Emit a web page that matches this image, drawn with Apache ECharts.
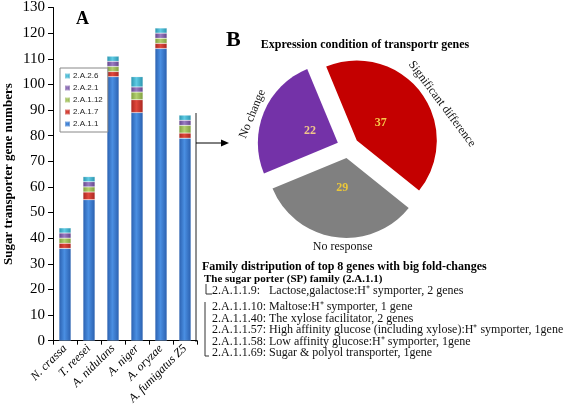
<!DOCTYPE html>
<html><head><meta charset="utf-8">
<script src="https://cdn.jsdelivr.net/npm/echarts@6/dist/echarts.min.js"></script>
<style>html,body{margin:0;padding:0;background:#fff}#c{width:567px;height:407px}</style>
</head><body><div id="c"></div>
<script>
// ---- data ----
var categories = ['N. crassa', 'T. reesei', 'A. nidulans', 'A. niger', 'A. oryzae', 'A. fumigatus Z5'];
var s_2A11  = [36, 55, 103, 89, 114, 79];
var s_2A17  = [2, 3, 2, 5, 2, 2];
var s_2A112 = [2, 2, 2, 3, 2, 3];
var s_2A21  = [2, 2, 2, 2, 2, 2];
var s_2A26  = [2, 2, 2, 4, 2, 2];
var seriesNames = ['2.A.1.1', '2.A.1.7', '2.A.1.12', '2.A.2.1', '2.A.2.6'];
var yTicks = {min: 0, max: 130, step: 10};
var pieNames = ['Significant difference', 'No response', 'No change'];
var pieValues = [37, 29, 22];
var familyLines = [
  '2.A.1.1.9:   Lactose,galactose:H\u207A symporter, 2 genes',
  '2.A.1.1.10: Maltose:H\u207A symporter, 1 gene',
  '2.A.1.1.40: The xylose facilitator, 2 genes',
  '2.A.1.1.57: High affinity glucose (including xylose):H\u207A symporter, 1gene',
  '2.A.1.1.58: Low affinity glucose:H\u207A symporter, 1gene',
  '2.A.1.1.69: Sugar & polyol transporter, 1gene'
];

// ---- styling ----
var SERIF = 'Liberation Serif, Times New Roman, serif';
function cyl(dark, light) {
  return new echarts.graphic.LinearGradient(0, 0, 1, 0, [
    {offset: 0, color: dark}, {offset: 0.45, color: light}, {offset: 1, color: dark}
  ]);
}
var barColors = [
  cyl('#2a5fae', '#4a8fe2'),
  cyl('#a8261f', '#e0483c'),
  cyl('#7f9e3e', '#b3d070'),
  cyl('#62448a', '#9a7cc2'),
  cyl('#2a93ad', '#5fcbe4')
];
var barData = [s_2A11, s_2A17, s_2A112, s_2A21, s_2A26];

var chart = echarts.init(document.getElementById('c'), null, {renderer: 'canvas'});
var series = barData.map(function (d, i) {
  return {
    name: seriesNames[i], type: 'bar', stack: 'total', data: d, barWidth: 12,
    itemStyle: {color: barColors[i], borderColor: 'rgba(255,255,255,0.35)', borderWidth: 0.5},
    emphasis: {disabled: true}, silent: true
  };
});

var pieColors = ['#c40000', '#808080', '#7432a8'];
var valColors = ['#f6c94a', '#e9c63a', '#f0c58a'];
var nameLabelTweaks = [
  {padding: [0, 0, 0, 44]},
  {rotate: 0, padding: [0, 0, 0, 18]},
  {padding: [0, 12, 0, 0]}
];
var pieMain = pieNames.map(function (n, i) {
  return {name: n, value: pieValues[i], selected: true, itemStyle: {color: pieColors[i]}};
});
var pieVal = pieNames.map(function (n, i) {
  return {name: n, value: pieValues[i], selected: true,
    label: {color: valColors[i]}};
});
var pieName = pieNames.map(function (n, i) {
  return {name: n, value: pieValues[i], selected: true, label: nameLabelTweaks[i]};
});
var pieCommon = {
  type: 'pie', center: [348, 147], startAngle: 112.5, clockwise: true,
  selectedMode: 'multiple', selectedOffset: 11, silent: true,
  emphasis: {disabled: true}, labelLine: {show: false}, animation: false
};
series.push(Object.assign({}, pieCommon, {
  radius: 80, data: pieMain, label: {show: false}
}));
series.push(Object.assign({}, pieCommon, {
  radius: 54, data: pieVal,
  itemStyle: {color: 'transparent'},
  label: {show: true, position: 'inside', formatter: '{c}', fontFamily: SERIF, fontWeight: 'bold', fontSize: 12}
}));
series.push(Object.assign({}, pieCommon, {
  radius: [80, 94], data: pieName,
  itemStyle: {color: 'transparent'},
  label: {show: true, position: 'inside', rotate: 'tangential', formatter: '{b}', fontFamily: SERIF, fontSize: 12, color: '#111'}
}));

var graphics = [
  {type: 'text', style: {text: 'A', x: 76, y: 10, font: 'bold 18px ' + SERIF, fill: '#000'}},
  {type: 'text', style: {text: 'B', x: 226, y: 29, font: 'bold 22px ' + SERIF, fill: '#000'}},
  {type: 'text', style: {text: 'Expression condition of transportr genes', x: 365, y: 45, textAlign: 'center', textVerticalAlign: 'middle', font: 'bold 12px ' + SERIF, fill: '#000'}},
  {type: 'line', shape: {x1: 196, y1: 113, x2: 196, y2: 342}, style: {stroke: '#222', lineWidth: 1}},
  {type: 'line', shape: {x1: 196, y1: 143, x2: 224, y2: 143}, style: {stroke: '#000', lineWidth: 1}},
  {type: 'polygon', shape: {points: [[229, 143], [221, 139.5], [221, 146.5]]}, style: {fill: '#000'}},
  {type: 'text', style: {text: 'Family distripution of top 8 genes with big fold-changes', x: 202, y: 267, textVerticalAlign: 'middle', font: 'bold 12px ' + SERIF, fill: '#000'}},
  {type: 'text', style: {text: 'The sugar porter (SP) family (2.A.1.1)', x: 204, y: 279, textVerticalAlign: 'middle', font: 'bold 11px ' + SERIF, fill: '#000'}},
  {type: 'polyline', shape: {points: [[206, 284], [206, 294], [212, 294]]}, style: {stroke: '#333', lineWidth: 1, fill: null}},
  {type: 'polyline', shape: {points: [[205, 302], [205, 356], [209, 356]]}, style: {stroke: '#333', lineWidth: 1, fill: null}}
];
var lineY = [291, 307, 318.5, 330, 341.5, 353];
familyLines.forEach(function (t, i) {
  graphics.push({type: 'text', style: {text: t, x: 212, y: lineY[i], textVerticalAlign: 'middle', font: '12px ' + SERIF, fill: '#111'}});
});

chart.setOption({
  animation: false,
  backgroundColor: '#fff',
  grid: {left: 53, top: 5, width: 144, height: 337, containLabel: false},
  legend: {
    orient: 'vertical', left: 60, top: 68, data: seriesNames.slice().reverse(),
    itemWidth: 5, itemHeight: 5, itemGap: 4, icon: 'rect',
    textStyle: {fontSize: 8, fontFamily: 'Liberation Sans, Arial, sans-serif', color: '#222', padding: [0, 0, 0, -2]},
    borderColor: '#888', borderWidth: 1, padding: [4, 5, 4, 4], backgroundColor: '#fff',
    selectedMode: false
  },
  xAxis: {
    type: 'category', data: categories,
    axisLine: {lineStyle: {color: '#000'}},
    axisTick: {show: true, length: 4, lineStyle: {color: '#000'}},
    axisLabel: {rotate: 45, interval: 0, margin: 6, fontFamily: SERIF, fontStyle: 'italic', fontSize: 12, color: '#000'}
  },
  yAxis: {
    type: 'value', min: yTicks.min, max: yTicks.max, interval: yTicks.step,
    name: 'Sugar transporter gene numbers', nameLocation: 'middle', nameGap: 38, nameRotate: 90,
    nameTextStyle: {fontFamily: SERIF, fontWeight: 'bold', fontSize: 13, color: '#000'},
    axisLine: {show: true, lineStyle: {color: '#000'}},
    axisTick: {show: true, length: 5, lineStyle: {color: '#000'}},
    splitLine: {show: false},
    axisLabel: {fontFamily: SERIF, fontSize: 15, color: '#000', margin: 8}
  },
  series: series,
  graphic: graphics
});
</script></body></html>
